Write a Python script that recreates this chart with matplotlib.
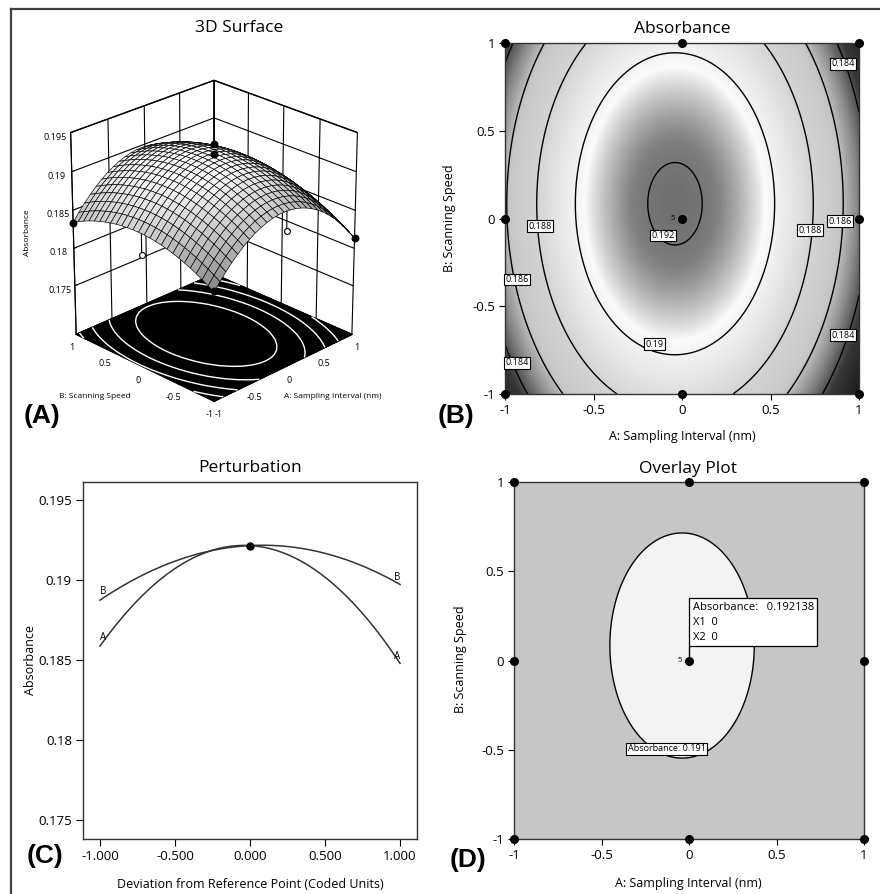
import numpy as np
import matplotlib
matplotlib.use("Agg")
import matplotlib.pyplot as plt
from matplotlib.colors import LinearSegmentedColormap
from matplotlib.lines import Line2D

plt.rcParams['font.family'] = ['Open Sans', 'DejaVu Sans']

# ---------------- data ----------------
coded = [-1.0, 0.0, 1.0]
pert_A = [0.18585, 0.19213, 0.18477]     # perturbation curve A at -1, 0, 1
pert_B = [0.18872, 0.19213, 0.18970]     # perturbation curve B at -1, 0, 1
center_value = 0.192138
contour_levels = [0.184, 0.186, 0.188, 0.19, 0.192]
floor_levels = [0.184, 0.186, 0.188, 0.19]
overlay_level = 0.191
design_A = [-1, 0, 1, -1, 0, 1, -1, 0, 1]
design_B = [-1, -1, -1, 0, 0, 0, 1, 1, 1]
# 3D visible design points (A, B, absorbance); open = below surface
pts3d_filled = [(0, 0, 0.1935), (0, 0, 0.1923), (-1, 1, 0.1834), (1, -1, 0.1814), (-1, -1, 0.1826)]
pts3d_open = [(-1, 0, 0.1831), (0, -1, 0.1862)]
# contour label positions (A, B, text)
clabels = [(0.911, 0.882, '0.184'), (-0.802, -0.044, '0.188'), (-0.109, -0.097, '0.192'),
           (0.723, -0.066, '0.188'), (0.893, -0.015, '0.186'), (-0.934, -0.347, '0.186'),
           (-0.156, -0.717, '0.19'), (0.911, -0.664, '0.184'), (-0.930, -0.822, '0.184')]
ticks_ab = [-1, -0.5, 0, 0.5, 1]
tick_lbl_ab = ['-1', '-0.5', '0', '0.5', '1']
ticks_z = [0.175, 0.18, 0.185, 0.19, 0.195]
tick_lbl_z = ['0.175', '0.18', '0.185', '0.19', '0.195']
ticks_pert = [-1, -0.5, 0, 0.5, 1]
tick_lbl_pert = ['-1.000', '-0.500', '0.000', '0.500', '1.000']

# quadratic model derived from the perturbation readings
cA = np.polyfit(coded, pert_A, 2)   # a11, a1, b0
cB = np.polyfit(coded, pert_B, 2)
b0 = pert_A[1]
def model(a, b):
    return b0 + cA[1] * a + cA[0] * a ** 2 + cB[1] * b + cB[0] * b ** 2

W, H = 880, 894
fig = plt.figure(figsize=(W / 100, H / 100), dpi=100)

def fx(px): return px / W
def fy(py): return 1 - py / H

# outer frame lines (top and left)
fig.add_artist(Line2D([fx(11), 1.0], [fy(9), fy(9)], color='#404040', lw=1.6))
fig.add_artist(Line2D([fx(11), fx(11)], [fy(9), 0.0], color='#404040', lw=1.6))

title_fs = 12.5
lab_fs = 9
tick_fs = 9.5

# ---------------- Panel A : 3D surface ----------------
ax3 = fig.add_axes([0.007, 0.4955, 0.46, 0.47], projection='3d', computed_zorder=False)
ax3.set_proj_type('persp', focal_length=1.1)
ax3.set_box_aspect((1, 1, 1.12), zoom=0.86)
zmin, zmax = 0.1684, 0.195
g = np.linspace(-1, 1, 26)
GA, GB = np.meshgrid(g, g)
GZ = model(GA, GB)
sz = 66.0
dA = cA[1] + 2 * cA[0] * GA
dB = cB[1] + 2 * cB[0] * GB
n = np.stack([-sz * dA, -sz * dB, np.ones_like(GA)], axis=-1)
n /= np.linalg.norm(n, axis=-1, keepdims=True)
L = np.array([-0.3, 0.6, 1.0]); L /= np.linalg.norm(L)
light = np.clip((n @ L - 0.25) / 0.55, 0, 1)
hgt = np.clip((GZ - 0.1805) / (0.1922 - 0.1805), 0, 1)
gray = np.clip(0.12 + 0.9 * (0.45 * light + 0.55 * hgt ** 0.6), 0, 0.98)
fc = np.stack([gray, gray, gray, np.ones_like(gray)], axis=-1)
ax3.view_init(elev=25, azim=-135)
ax3.set_xlim(-1, 1); ax3.set_ylim(-1, 1); ax3.set_zlim(zmin, zmax)
for axis in (ax3.xaxis, ax3.yaxis):
    axis.set_pane_color((1, 1, 1, 1))
    axis.pane.set_edgecolor('black')
ax3.zaxis.set_pane_color((0, 0, 0, 1))
ax3.zaxis.pane.set_edgecolor('black')
for axis in (ax3.xaxis, ax3.yaxis, ax3.zaxis):
    axis._axinfo['grid'].update({'color': 'black', 'linewidth': 0.8})
    axis._axinfo['tick'].update({'inward_factor': 0.0, 'outward_factor': 0.2})
    axis.line.set_color('black')
ax3.contour(GA, GB, GZ, levels=floor_levels, zdir='z', offset=zmin, colors='white', linewidths=1.0, zorder=1)
ax3.plot_surface(GA, GB, GZ, facecolors=fc, edgecolor='black', linewidth=0.45, shade=False, zorder=2)
for (a, b, z) in pts3d_open:
    zs = model(a, b)
    ax3.plot([a, a], [b, b], [z, zs], color='black', lw=0.8, zorder=3)
    ax3.scatter([a], [b], [z], s=18, facecolors='white', edgecolors='black', linewidths=0.8, depthshade=False, zorder=4)
for (a, b, z) in pts3d_filled:
    ax3.scatter([a], [b], [z], s=22, c='black', depthshade=False, zorder=5)
ax3.set_xticks(ticks_ab); ax3.set_xticklabels(tick_lbl_ab, fontsize=6.5)
ax3.set_yticks(ticks_ab); ax3.set_yticklabels(tick_lbl_ab, fontsize=6.5)
ax3.set_zticks(ticks_z); ax3.set_zticklabels(tick_lbl_z, fontsize=6.5)
ax3.xaxis.set_tick_params(pad=-3)
ax3.yaxis.set_tick_params(pad=-3)
ax3.zaxis.set_tick_params(pad=0)
fig.text(fx(239), fy(28), '3D Surface', ha='center', va='center', fontsize=title_fs)
fig.text(fx(27), fy(233), 'Absorbance', ha='center', va='center', rotation=90, fontsize=6)
fig.text(fx(95), fy(396), 'B: Scanning Speed', ha='center', va='center', fontsize=6)
fig.text(fx(333), fy(396), 'A: Sampling Interval (nm)', ha='center', va='center', fontsize=6)

# ---------------- Panel B : contour ----------------
axB = fig.add_axes([fx(505), fy(394), fx(859) - fx(505), fy(43) - fy(394)])
gg = np.linspace(-1, 1, 400)
XA, XB = np.meshgrid(gg, gg)
ZB = model(XA, XB)
nodes_v = [0.1805, 0.1835, 0.1850, 0.1862, 0.1880, 0.1895, 0.1904, 0.1912, 0.1918, 0.1923]
nodes_g = [0.05, 0.22, 0.55, 0.78, 0.83, 0.92, 0.98, 0.72, 0.50, 0.42]
vmin, vmax = nodes_v[0], nodes_v[-1]
cmap = LinearSegmentedColormap.from_list(
    'abs', [((v - vmin) / (vmax - vmin), (gv, gv, gv)) for v, gv in zip(nodes_v, nodes_g)])
axB.imshow(ZB, extent=(-1, 1, -1, 1), origin='lower', cmap=cmap, vmin=vmin, vmax=vmax,
           aspect='auto', interpolation='bilinear')
axB.contour(XA, XB, ZB, levels=contour_levels, colors='black', linewidths=1.0)
for (a, b, t) in clabels:
    axB.text(a, b, t, fontsize=6.5, ha='center', va='center',
             bbox=dict(boxstyle='square,pad=0.15', fc='white', ec='black', lw=0.8))
axB.plot(design_A, design_B, 'o', color='black', ms=5.5, clip_on=False, zorder=6)
axB.text(-0.04, 0.0, '5', fontsize=5.5, ha='right', va='center')
axB.set_xlim(-1, 1); axB.set_ylim(-1, 1)
axB.set_xticks(ticks_ab); axB.set_xticklabels(tick_lbl_ab)
axB.set_yticks(ticks_ab); axB.set_yticklabels(tick_lbl_ab)
axB.tick_params(labelsize=tick_fs, length=4, direction='out', pad=3)
for s in axB.spines.values():
    s.set_color('#333333'); s.set_linewidth(1.0)
fig.text(fx(682), fy(29), 'Absorbance', ha='center', va='center', fontsize=title_fs)
fig.text(fx(682), fy(436), 'A: Sampling Interval (nm)', ha='center', va='center', fontsize=lab_fs)
fig.text(fx(449), fy(218), 'B: Scanning Speed', ha='center', va='center', rotation=90, fontsize=lab_fs)

# ---------------- Panel C : perturbation ----------------
axC = fig.add_axes([fx(83), fy(839), fx(417) - fx(83), fy(482) - fy(839)])
xs = np.linspace(-1, 1, 201)
axC.plot(xs, np.polyval(cA, xs), color='#333333', lw=1.1)
axC.plot(xs, np.polyval(cB, xs), color='#333333', lw=1.1)
axC.plot([0], [pert_A[1]], 'o', color='black', ms=5)
lab_fs_small = 7
axC.text(-0.98, pert_B[0] + 0.0002, 'B', fontsize=lab_fs_small, ha='center', va='bottom')
axC.text(-0.98, pert_A[0] + 0.0002, 'A', fontsize=lab_fs_small, ha='center', va='bottom')
axC.text(0.98, pert_B[2] + 0.0001, 'B', fontsize=lab_fs_small, ha='center', va='bottom')
axC.text(0.98, pert_A[2] + 0.0001, 'A', fontsize=lab_fs_small, ha='center', va='bottom')
axC.set_xlim(-1.113, 1.113); axC.set_ylim(0.1738, 0.1961)
axC.set_xticks(ticks_pert); axC.set_xticklabels(tick_lbl_pert)
axC.set_yticks(ticks_z); axC.set_yticklabels(tick_lbl_z)
axC.tick_params(labelsize=tick_fs, length=5, direction='out', pad=3)
for s in axC.spines.values():
    s.set_color('#333333'); s.set_linewidth(1.0)
fig.text(fx(250), fy(468), 'Perturbation', ha='center', va='center', fontsize=title_fs)
fig.text(fx(250), fy(884), 'Deviation from Reference Point (Coded Units)', ha='center', va='center', fontsize=lab_fs)
fig.text(fx(30), fy(660), 'Absorbance', ha='center', va='center', rotation=90, fontsize=lab_fs)

# ---------------- Panel D : overlay ----------------
axD = fig.add_axes([fx(514), fy(839), fx(864) - fx(514), fy(482) - fy(839)])
axD.set_facecolor('#c6c6c6')
axD.contourf(XA, XB, ZB, levels=[overlay_level, 1.0], colors=['#f3f3f3'])
axD.contour(XA, XB, ZB, levels=[overlay_level], colors='black', linewidths=1.0)
axD.plot([0, 0], [0, 0.075], color='black', lw=1.0)
axD.text(0.02, 0.10, 'Absorbance:   %.6f\nX1  0\nX2  0' % center_value, fontsize=8,
         ha='left', va='bottom', linespacing=1.5,
         bbox=dict(boxstyle='square,pad=0.3', fc='white', ec='black', lw=0.9))
axD.text(-0.128, -0.495, 'Absorbance: %.3f' % overlay_level, fontsize=6.5, ha='center', va='center',
         bbox=dict(boxstyle='square,pad=0.2', fc='white', ec='black', lw=0.8))
axD.plot(design_A, design_B, 'o', color='black', ms=5.5, clip_on=False, zorder=6)
axD.text(-0.04, 0.0, '5', fontsize=5.5, ha='right', va='center')
axD.set_xlim(-1, 1); axD.set_ylim(-1, 1)
axD.set_xticks(ticks_ab); axD.set_xticklabels(tick_lbl_ab)
axD.set_yticks(ticks_ab); axD.set_yticklabels(tick_lbl_ab)
axD.tick_params(labelsize=tick_fs, length=4, direction='out', pad=3)
for s in axD.spines.values():
    s.set_color('#333333'); s.set_linewidth(1.0)
fig.text(fx(688), fy(469), 'Overlay Plot', ha='center', va='center', fontsize=title_fs)
fig.text(fx(688), fy(884), 'A: Sampling Interval (nm)', ha='center', va='center', fontsize=lab_fs)
fig.text(fx(460), fy(659), 'B: Scanning Speed', ha='center', va='center', rotation=90, fontsize=lab_fs)

# panel letters
for (px, py, t) in [(42, 416, '(A)'), (456, 416, '(B)'), (45, 856, '(C)'), (468, 860, '(D)')]:
    fig.text(fx(px), fy(py), t, ha='center', va='center', fontsize=19, fontweight='bold',
             family='Liberation Sans')

fig.savefig('out.png', dpi=100)
